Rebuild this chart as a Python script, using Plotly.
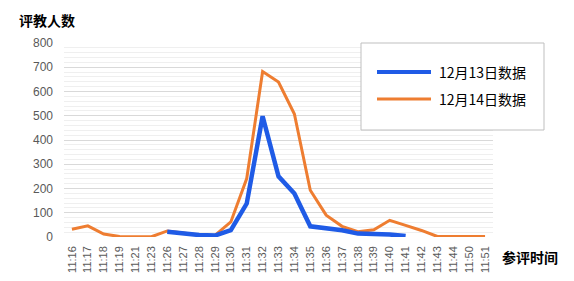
import plotly.graph_objects as go

categories = ["11:16","11:17","11:18","11:19","11:21","11:23","11:26","11:27","11:28","11:29",
              "11:30","11:31","11:32","11:33","11:34","11:35","11:36","11:37","11:38","11:39",
              "11:40","11:41","11:42","11:43","11:44","11:50","11:51"]
dec13 = [None,None,None,None,None,None,22,15,8,6,
         28,138,498,250,179,44,38,28,14,14,
         10,4,None,None,None,None,None]
dec14 = [32,46,12,2,1,1,25,15,8,7,
         62,241,682,639,507,193,90,44,22,30,
         69,48,27,2,2,2,2]
series_names = ["12月13日数据", "12月14日数据"]
colors = ["#1F5BE6", "#EE7D31"]

fig = go.Figure()
fig.add_trace(go.Scatter(x=categories, y=dec14, mode="lines", name=series_names[1],
                         line=dict(color=colors[1], width=3), showlegend=False))
fig.add_trace(go.Scatter(x=categories, y=dec13, mode="lines", name=series_names[0],
                         line=dict(color=colors[0], width=4.5), showlegend=False))

font_cjk = "Noto Sans CJK SC"
fig.update_layout(
    width=574, height=281,
    margin=dict(l=64, r=81, t=43, b=44),
    paper_bgcolor="white", plot_bgcolor="white",
    showlegend=False,
    font=dict(family="Liberation Sans, Arial", size=11, color="#595959"),
    xaxis=dict(type="category", tickangle=-90, showgrid=False, showline=False,
               ticks="", ticklabelstandoff=6, tickfont=dict(size=11, color="#595959"),
               range=[-0.5, 26.5], automargin=False),
    yaxis=dict(range=[0, 800], dtick=100, showline=False, zeroline=False,
               gridcolor="#D9D9D9", gridwidth=1, ticks="", ticklabelstandoff=10,
               tickfont=dict(size=12, color="#595959"), automargin=False,
               minor=dict(dtick=20, showgrid=True, gridcolor="#EFEFEF", gridwidth=1)),
)

# legend box
fig.add_shape(type="rect", xref="paper", yref="paper",
              x0=(361-64)/429, x1=(544-64)/429, y0=(237-130)/194, y1=(237-43)/194,
              line=dict(color="#BFBFBF", width=1), fillcolor="white", layer="above")
for i, (nm, c, py) in enumerate([(series_names[0], colors[0], 72), (series_names[1], colors[1], 99)]):
    fig.add_shape(type="line", xref="paper", yref="paper",
                  x0=(377-64)/429, x1=(431-64)/429, y0=(237-py)/194, y1=(237-py)/194,
                  line=dict(color=c, width=4 if i == 0 else 3), layer="above")
    fig.add_annotation(xref="paper", yref="paper", x=(437-64)/429, y=(237-py)/194,
                       text=nm, showarrow=False, xanchor="left", yanchor="middle",
                       font=dict(family=font_cjk, size=14, color="#000000"))

fig.add_annotation(xref="paper", yref="paper", x=-47/429, y=(237-20)/194,
                   text="<b>评教人数</b>", showarrow=False, xanchor="left", yanchor="middle",
                   font=dict(family=font_cjk, size=14, color="#000000"))
fig.add_annotation(xref="paper", yref="paper", x=(500-64)/429, y=(237-257)/194,
                   text="<b>参评时间</b>", showarrow=False, xanchor="left", yanchor="middle",
                   font=dict(family=font_cjk, size=14, color="#000000"))

fig.write_html("out.html")
